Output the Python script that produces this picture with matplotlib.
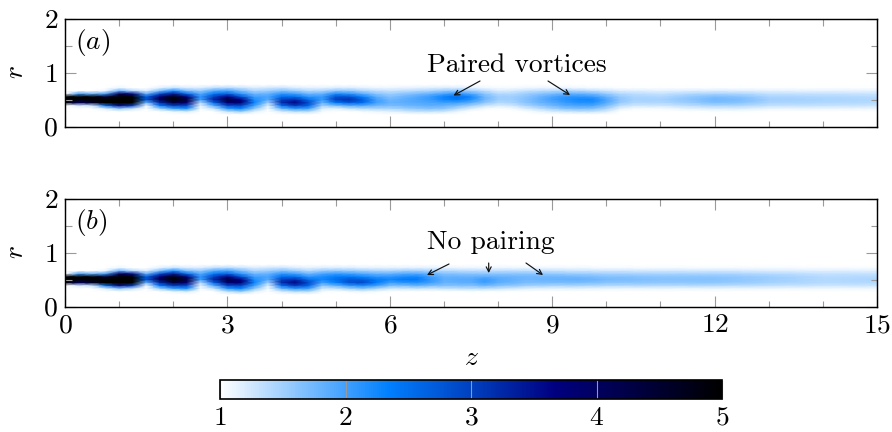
import numpy as np
import matplotlib
matplotlib.use("Agg")
import matplotlib.pyplot as plt
from matplotlib.colors import LinearSegmentedColormap, Normalize
from matplotlib.cm import ScalarMappable

plt.rcParams.update({"font.family": ["cmr10", "DejaVu Serif"], "mathtext.fontset": "cm",
                     "axes.formatter.use_mathtext": True, "axes.unicode_minus": False})

r_levels = [.225, .28, .335, .39, .445, .50, .555, .61, .665, .72, .775]

z_a = [0, .25, .5, .75, 1, 1.25, 1.5, 1.75, 2, 2.25, 2.5, 2.75, 3, 3.25, 3.5, 3.75, 4, 4.25, 4.5, 4.75,
       5, 5.25, 5.5, 5.75, 6, 6.5, 6.75, 7, 7.25, 7.5, 7.75, 8, 8.25, 8.5, 8.75, 9, 9.25, 9.5, 9.75,
       10, 10.25, 10.5, 11, 11.5, 12, 12.5, 13, 14, 15]
field_a = [
 [1,1,1,1,5,5,5,1,1,1,1],
 [1,1,1,1.2,4,5,5,2,1,1,1],
 [1,1,1,1.3,4.5,5,5,1.8,1,1,1],
 [1,1,1.2,2.5,5,5,4.5,2,1.1,1,1],
 [1,1,1.6,3.5,5,5,5,4,1.8,1.1,1],
 [1,1,1.3,3,5,5,5,3.5,1.4,1,1],
 [1,1,1,1.1,1.8,2.8,2.7,1.8,1.2,1,1],
 [1,1,1.5,2.4,3.2,4.2,3.8,2.8,1.7,1.15,1],
 [1,1.1,2,3,4.3,5,4.8,3.4,2.2,1.3,1],
 [1,1.2,2.2,2.9,3.8,4.4,3.8,2.5,1.7,1.2,1],
 [1,1,1.05,1.15,1.4,2,2.1,1.9,1.55,1.2,1],
 [1,1,1.3,1.9,2.6,3.3,3,2.4,1.9,1.35,1],
 [1,1.3,2.1,2.9,3.8,4.4,3.7,2.6,2,1.4,1],
 [1,1.5,2.3,2.9,3.8,3.7,2.8,2.1,1.7,1.3,1],
 [1,1.15,1.6,2,2.3,2.2,2,1.75,1.45,1.2,1],
 [1,1,1.05,1.2,1.5,1.9,1.95,1.8,1.5,1.25,1],
 [1,1.2,1.8,2.5,3.2,3,2.5,2.1,1.65,1.3,1],
 [1,1.35,2.1,3,3.6,3.2,2.5,2,1.55,1.2,1],
 [1,1.35,2,2.6,2.9,2.5,2.1,1.75,1.4,1.15,1],
 [1,1.05,1.2,1.5,1.8,2.05,2.05,1.8,1.45,1.15,1],
 [1,1,1.15,1.7,2.4,3,2.8,2.2,1.6,1.2,1],
 [1,1,1.3,1.9,2.7,3.2,2.8,2.1,1.6,1.2,1],
 [1,1.05,1.4,1.9,2.5,2.7,2.3,1.85,1.45,1.15,1],
 [1,1.1,1.45,1.75,2,2,1.85,1.6,1.35,1.1,1],
 [1,1.15,1.45,1.7,1.8,1.75,1.65,1.5,1.3,1.1,1],
 [1,1.3,1.6,1.8,1.9,1.95,1.9,1.7,1.4,1.15,1],
 [1,1.3,1.65,1.85,1.95,2.05,2.05,1.8,1.45,1.18,1],
 [1,1.25,1.6,1.8,2,2.25,2.3,1.95,1.55,1.2,1],
 [1,1.1,1.4,1.7,2,2.35,2.5,2.1,1.6,1.2,1],
 [1,1,1.2,1.5,1.85,2.15,2.25,1.9,1.5,1.15,1],
 [1,1,1.05,1.3,1.6,1.75,1.75,1.6,1.35,1.08,1],
 [1,1,1.02,1.2,1.4,1.5,1.5,1.4,1.2,1.05,1],
 [1,1,1.05,1.25,1.45,1.5,1.5,1.4,1.22,1.05,1],
 [1,1.02,1.2,1.45,1.6,1.65,1.6,1.5,1.3,1.08,1],
 [1,1.1,1.35,1.6,1.78,1.82,1.78,1.6,1.35,1.1,1],
 [1,1.2,1.5,1.75,1.9,2,1.95,1.7,1.4,1.1,1],
 [1,1.25,1.65,1.9,2.05,2.15,2.1,1.8,1.45,1.1,1],
 [1,1.3,1.7,1.95,2.15,2.25,2.1,1.8,1.42,1.08,1],
 [1,1.3,1.65,1.95,2.15,2.25,2.05,1.72,1.35,1.05,1],
 [1,1.2,1.45,1.7,1.9,1.95,1.8,1.55,1.28,1.05,1],
 [1,1,1.15,1.35,1.55,1.6,1.55,1.4,1.2,1.03,1],
 [1,1,1.05,1.25,1.42,1.48,1.45,1.35,1.18,1.03,1],
 [1,1,1.05,1.25,1.42,1.48,1.42,1.3,1.15,1.02,1],
 [1,1,1.15,1.35,1.52,1.6,1.55,1.4,1.18,1.03,1],
 [1,1.02,1.2,1.45,1.68,1.75,1.68,1.45,1.2,1.03,1],
 [1,1.02,1.2,1.42,1.62,1.7,1.62,1.42,1.18,1.03,1],
 [1,1,1.12,1.32,1.45,1.5,1.45,1.32,1.15,1.02,1],
 [1,1,1.12,1.3,1.42,1.46,1.42,1.3,1.14,1.02,1],
 [1,1,1.1,1.28,1.38,1.42,1.38,1.28,1.13,1.02,1],
]

z_b = [0, .25, .5, .75, 1, 1.25, 1.5, 1.75, 2, 2.25, 2.5, 2.75, 3, 3.25, 3.5, 3.75, 4, 4.25, 4.5, 4.75,
       5, 5.25, 5.5, 5.75, 6, 6.25, 6.5, 6.75, 7, 7.5, 7.75, 8, 8.5, 9, 9.5, 10, 11, 12, 13, 14, 15]
field_b = [
 [1,1,1,1,5,5,5,1,1,1,1],
 [1,1,1,1.2,4,5,5,2,1,1,1],
 [1,1,1,1.3,4.5,5,5,1.8,1,1,1],
 [1,1,1.2,2.5,5,5,4.5,2,1.1,1,1],
 [1,1,1.6,3.5,5,5,5,4,1.8,1.1,1],
 [1,1,1.3,3,5,5,5,3.5,1.4,1,1],
 [1,1,1,1.1,1.8,2.8,2.7,1.8,1.2,1,1],
 [1,1,1.5,2.4,3.2,4.2,3.8,2.8,1.7,1.15,1],
 [1,1.1,2,3,4.3,5,4.8,3.4,2.2,1.3,1],
 [1,1.2,2.2,2.9,3.8,4.4,3.8,2.5,1.7,1.2,1],
 [1,1,1.05,1.15,1.4,2,2.1,1.9,1.55,1.2,1],
 [1,1,1.3,1.9,2.6,3.3,3,2.4,1.9,1.35,1],
 [1,1.3,2.1,2.9,3.8,4.4,3.7,2.6,2,1.4,1],
 [1,1.5,2.3,2.9,3.8,3.7,2.8,2.1,1.7,1.3,1],
 [1,1.15,1.6,2,2.3,2.2,2,1.75,1.45,1.2,1],
 [1,1,1.05,1.2,1.5,1.9,1.95,1.8,1.5,1.25,1],
 [1,1.2,1.8,2.5,3.2,3,2.5,2.1,1.65,1.3,1],
 [1,1.35,2.1,3,3.6,3.2,2.5,2,1.55,1.2,1],
 [1,1.35,2,2.6,2.9,2.5,2.1,1.75,1.4,1.15,1],
 [1,1.05,1.25,1.6,2,2.25,2.2,1.95,1.55,1.2,1],
 [1,1,1.3,1.8,2.3,2.5,2.35,2.05,1.6,1.2,1],
 [1,1.05,1.5,2.1,2.8,2.8,2.4,2,1.55,1.2,1],
 [1,1.1,1.65,2.2,2.9,2.7,2.25,1.9,1.5,1.15,1],
 [1,1.05,1.45,2,2.4,2.4,2.1,1.8,1.45,1.15,1],
 [1,1,1.25,1.7,2,2.25,2.1,1.8,1.45,1.15,1],
 [1,1,1.25,1.7,2.1,2.4,2.2,1.9,1.5,1.15,1],
 [1,1,1.3,1.8,2.15,2.4,2.25,1.9,1.5,1.15,1],
 [1,1,1.25,1.7,2,2.1,2,1.8,1.45,1.15,1],
 [1,1,1.3,1.65,1.8,1.85,1.8,1.65,1.4,1.12,1],
 [1,1.02,1.35,1.65,1.85,1.9,1.8,1.6,1.35,1.1,1],
 [1,1.02,1.35,1.75,2,2.05,1.85,1.6,1.35,1.1,1],
 [1,1.02,1.3,1.65,1.85,1.9,1.8,1.6,1.35,1.1,1],
 [1,1,1.18,1.5,1.7,1.75,1.75,1.6,1.35,1.1,1],
 [1,1,1.15,1.45,1.7,1.8,1.75,1.55,1.3,1.08,1],
 [1,1,1.15,1.45,1.7,1.82,1.72,1.52,1.28,1.08,1],
 [1,1,1.12,1.4,1.62,1.72,1.65,1.48,1.25,1.06,1],
 [1,1,1.12,1.38,1.58,1.65,1.6,1.45,1.24,1.06,1],
 [1,1,1.12,1.38,1.58,1.65,1.6,1.45,1.24,1.06,1],
 [1,1,1.1,1.32,1.48,1.52,1.5,1.38,1.2,1.05,1],
 [1,1,1.08,1.28,1.38,1.4,1.38,1.3,1.16,1.04,1],
 [1,1,1.08,1.28,1.4,1.44,1.4,1.3,1.16,1.04,1],
]

cmap = LinearSegmentedColormap.from_list("vort", [(0, "#ffffff"), (0.333, "#0080ff"), (0.667, "#000080"), (1, "#000000")])
norm = Normalize(1, 5)

W, H = 892, 432
fig = plt.figure(figsize=(W/100, H/100), dpi=100)
FS = 19.8
GRAY = "#9a9a9a"
px = 72/100


def make_axes(x0, y0, x1, y1):
    return fig.add_axes([x0/W, 1-y1/H, (x1-x0)/W, (y1-y0)/H])


def style(ax, labels):
    ax.set_xlim(0, 15)
    ax.set_ylim(0, 2)
    ax.set_xticks(range(0, 16, 3))
    ax.set_xticks(range(0, 16), minor=True)
    ax.set_yticks([0, 1, 2])
    ax.set_yticks([.5, 1.5], minor=True)
    ax.tick_params(which="major", direction="in", length=11*px, width=1.1*px, color=GRAY,
                   top=True, right=True, labelsize=FS, pad=5)
    ax.tick_params(which="minor", direction="in", length=6.5*px, width=1.1*px, color=GRAY, top=True, right=True)
    ax.set_yticklabels(["$0$", "$1$", "$2$"])
    if labels:
        ax.set_xticklabels([f"${v}$" for v in range(0, 16, 3)])
    else:
        ax.set_xticklabels([])
    ax.set_ylabel("$r$", fontsize=FS, va="center", ha="center")
    p = ax.get_position()
    ax.yaxis.set_label_coords(16/W, (p.y0 + p.y1)/2, transform=fig.transFigure)
    for s in ax.spines.values():
        s.set_linewidth(1.2*px*1.2)
        s.set_zorder(5)


def arrow(ax, start, tip):
    ax.annotate("", xy=tip, xytext=start, xycoords="figure pixels", textcoords="figure pixels",
                arrowprops=dict(arrowstyle="->,head_length=0.35,head_width=0.18", lw=0.85, color="#111111",
                                shrinkA=0, shrinkB=0))


ax_a = make_axes(65, 18.5, 877, 126.5)
ax_b = make_axes(65, 198.5, 877, 306.5)
ax_a.pcolormesh(z_a, r_levels, np.array(field_a).T, cmap=cmap, norm=norm, shading="gouraud")
ax_b.pcolormesh(z_b, r_levels, np.array(field_b).T, cmap=cmap, norm=norm, shading="gouraud")
style(ax_a, False)
style(ax_b, True)

fig.text(75/W, 1-42.5/H, r"$(a)$", fontsize=FS, va="center", ha="left")
fig.text(75/W, 1-222.5/H, r"$(b)$", fontsize=FS, va="center", ha="left")
fig.text(427/W, 1-71.5/H, "Paired vortices", fontsize=FS, va="baseline", ha="left")
fig.text(427/W, 1-249/H, "No pairing", fontsize=FS, va="baseline", ha="left")


def P(x, y):
    return (x, H-y)


arrow(ax_a, P(480, 81), P(453.5, 95.5))
arrow(ax_a, P(548, 81), P(570, 95))
arrow(ax_b, P(449, 264), P(427, 275))
arrow(ax_b, P(488.7, 263), P(488.7, 273))
arrow(ax_b, P(526, 263), P(543, 275))

fig.text(471/W, 1-358/H, "$z$", fontsize=FS, ha="center", va="center")

cax = make_axes(220, 379.5, 722, 399)
cb = fig.colorbar(ScalarMappable(norm=norm, cmap=cmap), cax=cax, orientation="horizontal")
cb.set_ticks([1, 2, 3, 4, 5])
cb.set_ticklabels([f"${v}$" for v in [1, 2, 3, 4, 5]])
cb.ax.tick_params(direction="in", length=19.5*px, width=1.1*px, color=GRAY, labelsize=FS, pad=5)
cb.outline.set_linewidth(1.4*px*1.2)
cb.minorticks_off()

fig.savefig("out.png", dpi=100)
